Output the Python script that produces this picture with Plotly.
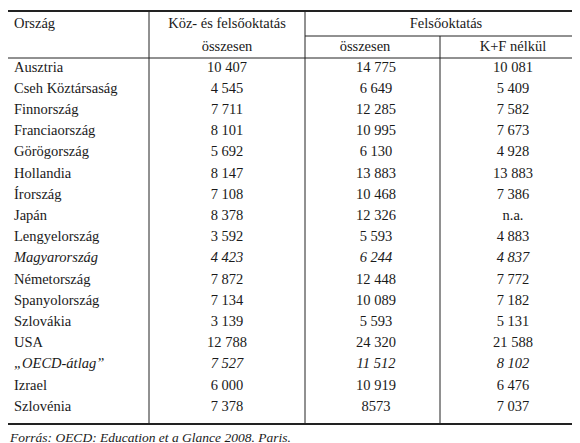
import plotly.graph_objects as go

countries = ["Ausztria","Cseh Köztársaság","Finnország","Franciaország","Görögország","Hollandia",
             "Írország","Japán","Lengyelország","Magyarország","Németország","Spanyolország",
             "Szlovákia","USA","„OECD-átlag”","Izrael","Szlovénia"]
koz_fels = ["10 407","4 545","7 711","8 101","5 692","8 147","7 108","8 378","3 592","4 423",
            "7 872","7 134","3 139","12 788","7 527","6 000","7 378"]
fels_ossz = ["14 775","6 649","12 285","10 995","6 130","13 883","10 468","12 326","5 593","6 244",
             "12 448","10 089","5 593","24 320","11 512","10 919","8573"]
fels_kf = ["10 081","5 409","7 582","7 673","4 928","13 883","7 386","n.a.","4 883","4 837",
           "7 772","7 182","5 131","21 588","8 102","6 476","7 037"]
italic_rows = {"Magyarország", "„OECD-átlag”"}

W, H = 580, 443
y0, dy = 60, 21.2
rows_y = [y0 + i * dy for i in range(len(countries))]

def fmt(c, v):
    return f"<i>{v}</i>" if c in italic_rows else v

FAM = "Liberation Serif, DejaVu Serif, serif"
FONT = dict(family=FAM, size=14.5, color="#1a1a1a")
fig = go.Figure()
fig.add_trace(go.Scatter(x=[6]*len(countries), y=rows_y, mode="text",
                         text=[fmt(c, c) for c in countries], textposition="middle right",
                         textfont=FONT, hoverinfo="skip"))
for xc, col in [(219, koz_fels), (368, fels_ossz), (505, fels_kf)]:
    fig.add_trace(go.Scatter(x=[xc]*len(col), y=rows_y, mode="text",
                             text=[fmt(c, v) for c, v in zip(countries, col)],
                             textposition="middle center", textfont=FONT, hoverinfo="skip"))
fig.add_trace(go.Scatter(x=[6], y=[16], mode="text", text=["Ország"], textposition="middle right",
                         textfont=FONT, hoverinfo="skip"))
fig.add_trace(go.Scatter(x=[219, 438, 219, 357, 505], y=[16, 16, 39, 39, 39], mode="text",
                         text=["Köz- és felsőoktatás", "Felsőoktatás", "összesen", "összesen", "K+F nélkül"],
                         textposition="middle center", textfont=FONT, hoverinfo="skip"))
fig.add_trace(go.Scatter(x=[2], y=[431], mode="text",
                         text=["<i>Forrás: OECD: Education et a Glance 2008. Paris.</i>"],
                         textposition="middle right", textfont=dict(family=FAM, size=13.5, color="#1a1a1a"),
                         hoverinfo="skip"))

lc = "#222"
shapes = [
    dict(type="line", x0=0, x1=580, y0=3, y1=3, line=dict(color=lc, width=2)),
    dict(type="line", x0=0, x1=580, y0=50, y1=50, line=dict(color=lc, width=1)),
    dict(type="line", x0=0, x1=580, y0=416, y1=416, line=dict(color=lc, width=2)),
    dict(type="line", x0=297, x1=580, y0=28, y1=28, line=dict(color=lc, width=1)),
    dict(type="line", x0=141, x1=141, y0=3, y1=416, line=dict(color=lc, width=1)),
    dict(type="line", x0=297, x1=297, y0=3, y1=416, line=dict(color=lc, width=1)),
    dict(type="line", x0=432, x1=432, y0=28, y1=416, line=dict(color=lc, width=1)),
]
fig.update_layout(width=W, height=H, margin=dict(l=0, r=0, t=0, b=0), showlegend=False,
                  paper_bgcolor="white", plot_bgcolor="white", shapes=shapes,
                  xaxis=dict(range=[0, W], visible=False, fixedrange=True),
                  yaxis=dict(range=[H, 0], visible=False, fixedrange=True))
fig.write_html("out.html", config={"displayModeBar": False})
